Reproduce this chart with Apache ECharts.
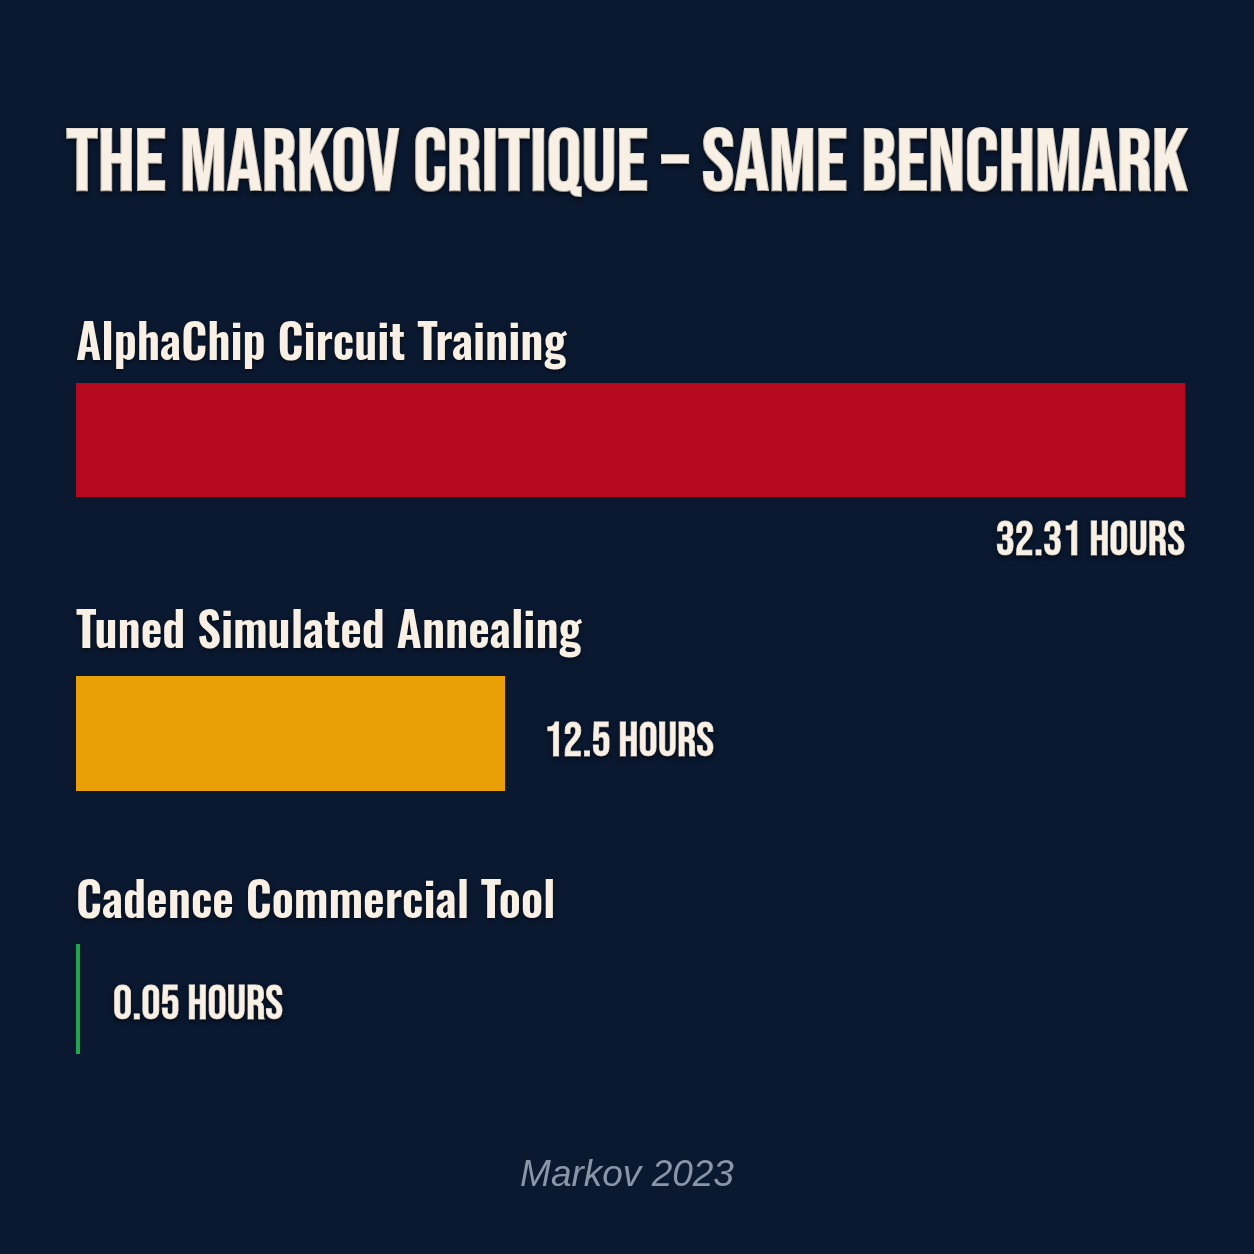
<!DOCTYPE html>
<html>
<head>
<meta charset="utf-8">
<style>
  html, body { margin: 0; padding: 0; background: #0b1930; }
  #chart { width: 1254px; height: 1254px; }
</style>
<script src="https://cdn.jsdelivr.net/npm/echarts@6/dist/echarts.min.js"></script>
</head>
<body>
<div id="chart"></div>
<script>
// ---- data ----
const titleText = 'THE MARKOV CRITIQUE – SAME BENCHMARK';
const categories = ['AlphaChip Circuit Training', 'Tuned Simulated Annealing', 'Cadence Commercial Tool'];
const hours = [32.31, 12.5, 0.05];
const unitLabel = 'HOURS';
const sourceText = 'Markov 2023';

// ---- style ----
const barColors = ['#b5091f', '#e9a006', '#1ea84a'];
const cream = '#f8f0e4';
const display = "'Bebas Neue', 'Oswald', 'Roboto Condensed', sans-serif";
const condensed = "'Oswald', 'Roboto Condensed', 'Open Sans Condensed', sans-serif";
const gridTops = [383, 676, 944];
const gridHeights = [114, 115, 110];
const nameGaps = [14, 19, 17];
const shadow = { textShadowColor: 'rgba(0,0,0,0.55)', textShadowBlur: 4, textShadowOffsetY: 2 };
const embolden = (w) => ({ textBorderColor: cream, textBorderWidth: w });

const maxVal = Math.max(...hours);

const grids = [], xAxes = [], yAxes = [], series = [];
categories.forEach((cat, i) => {
  grids.push({ left: 76, right: 69, top: gridTops[i], height: gridHeights[i], containLabel: false });
  xAxes.push({
    type: 'value', gridIndex: i, min: 0, max: maxVal,
    axisLine: { show: false }, axisTick: { show: false }, axisLabel: { show: false }, splitLine: { show: false }
  });
  yAxes.push({
    type: 'category', gridIndex: i, data: [cat],
    axisLine: { show: false }, axisTick: { show: false }, axisLabel: { show: false }, splitLine: { show: false },
    name: cat, nameLocation: 'end', nameGap: nameGaps[i],
    nameTextStyle: Object.assign({
      color: cream, fontFamily: condensed, fontWeight: 600, fontSize: 47,
      align: 'left', verticalAlign: 'bottom'
    }, shadow)
  });
  let label;
  if (i === 0) {
    label = { position: ['100%', '100%'], offset: [0, 46], align: 'right', verticalAlign: 'middle' };
  } else {
    label = { position: 'right', distance: i === 1 ? 39 : 33, offset: [0, i === 1 ? 10 : 8] };
  }
  series.push({
    type: 'bar', xAxisIndex: i, yAxisIndex: i,
    data: [hours[i]], barWidth: '100%', barMinHeight: 4,
    itemStyle: { color: barColors[i] },
    label: Object.assign({
      show: true, color: cream, fontFamily: display, fontWeight: 'normal', fontSize: 48,
      formatter: (p) => p.value + ' ' + unitLabel
    }, shadow, embolden(0.8), label),
    silent: true, animation: false
  });
});

const chart = echarts.init(document.getElementById('chart'));
chart.setOption({
  backgroundColor: '#0b1930',
  animation: false,
  title: [
    {
      text: titleText, left: 'center', top: 125, padding: 0,
      textStyle: Object.assign({ color: cream, fontFamily: display, fontWeight: 'normal', fontSize: 87 }, shadow, embolden(2))
    },
    {
      text: sourceText, left: 'center', top: 1157, padding: 0,
      textStyle: { color: '#8a96a8', fontFamily: "'Liberation Sans', Arial, sans-serif", fontStyle: 'italic', fontWeight: 'normal', fontSize: 37 }
    }
  ],
  grid: grids, xAxis: xAxes, yAxis: yAxes, series: series
});
</script>
</body>
</html>
